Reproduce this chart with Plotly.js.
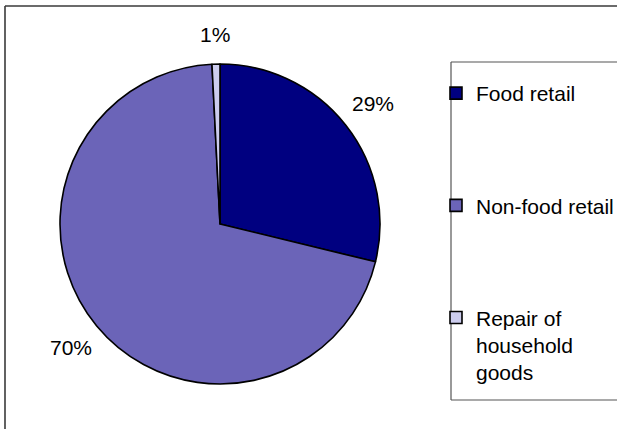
<!DOCTYPE html>
<html><head><meta charset="utf-8">
<script src="https://cdn.plot.ly/plotly-3.0.1.min.js"></script>
<style>html,body{margin:0;padding:0;background:#fff;overflow:hidden}#chart{width:617px;height:429px}</style>
</head><body><div id="chart"></div>
<script>
// ---- data ----
const categories = ['Food retail', 'Non-food retail', 'Repair of household goods'];
const shares = [28.8, 70.4, 0.8];
const legendText = ['Food retail', 'Non-food retail', 'Repair of<br>household<br>goods'];
const sliceColors = ['#000080', '#6B64B8', '#CCCCEE'];

// ---- layout constants ----
const W = 617, H = 429;
const cx = 220, cy = 224, R = 160;
const FONT = 'Liberation Sans, Arial, sans-serif';
const FS = 21;
const LINES_PER_ITEM = 4;

const total = shares.reduce((a, b) => a + b, 0);

// legend labels padded with blank lines to reproduce the spacing
const legendLabels = legendText.map(t => {
  const n = t.split('<br>').length;
  let s = t;
  for (let i = n; i < LINES_PER_ITEM; i++) s += '<br>\u00a0';
  return s;
});

// percentage labels outside the pie, positioned from slice mid-angles
const annotations = [];
let cum = 0;
shares.forEach((v, i) => {
  const mid = (cum + v / 2) / total * 2 * Math.PI;
  cum += v;
  const txt = Math.round(v / total * 100) + '%';
  const s = Math.sin(mid), c = Math.cos(mid);
  const hw = txt.length * 0.6 * FS / 2, hh = 0.36 * FS;
  const off = Math.min(Math.abs(s) > 1e-6 ? hw / Math.abs(s) : 1e9,
                       Math.abs(c) > 1e-6 ? hh / Math.abs(c) : 1e9);
  const r = R + 22 + off;
  const px = cx + r * s, py = cy - r * c;
  annotations.push({
    text: txt, x: px / W, y: 1 - py / H, xref: 'paper', yref: 'paper',
    xanchor: 'center', yanchor: 'middle', showarrow: false,
    font: {family: FONT, size: FS, color: '#000'}
  });
});

const trace = {
  type: 'pie',
  labels: legendLabels,
  values: shares,
  sort: false,
  direction: 'clockwise',
  rotation: 0,
  textinfo: 'none',
  hovertext: categories,
  hoverinfo: 'text+percent',
  marker: {colors: sliceColors, line: {color: '#000', width: 1.6}},
  domain: {x: [(cx - R) / W, (cx + R) / W], y: [1 - (cy + R) / H, 1 - (cy - R) / H]}
};

function hline(x0, x1, y, color, width) {
  return {type: 'line', xref: 'paper', yref: 'paper', x0: x0 / W, x1: x1 / W, y0: 1 - y / H, y1: 1 - y / H,
          line: {color: color, width: width}, layer: 'below'};
}
function vline(x, y0, y1, color, width) {
  return {type: 'line', xref: 'paper', yref: 'paper', x0: x / W, x1: x / W, y0: 1 - y0 / H, y1: 1 - y1 / H,
          line: {color: color, width: width}, layer: 'below'};
}

const layout = {
  width: W, height: H,
  margin: {l: 0, r: 0, t: 0, b: 0, autoexpand: false},
  paper_bgcolor: '#fff',
  showlegend: true,
  legend: {
    x: 436 / W, xanchor: 'left', y: 1 - 73 / H, yanchor: 'top',
    bgcolor: 'rgba(0,0,0,0)', borderwidth: 0, valign: 'top',
    font: {family: FONT, size: FS, color: '#000'}
  },
  annotations: annotations,
  shapes: [
    // outer chart frame (continues past the right and bottom edges)
    vline(5, 6, 460, '#3a3a3a', 1.6),
    hline(5, 660, 6, '#3a3a3a', 1.6),
    // legend frame
    vline(451, 62, 400, '#555', 1.2),
    hline(451, 660, 62, '#555', 1.2),
    hline(451, 660, 400, '#555', 1.2)
  ]
};

Plotly.newPlot('chart', [trace], layout, {staticPlot: true, displayModeBar: false});
</script>
</body></html>
